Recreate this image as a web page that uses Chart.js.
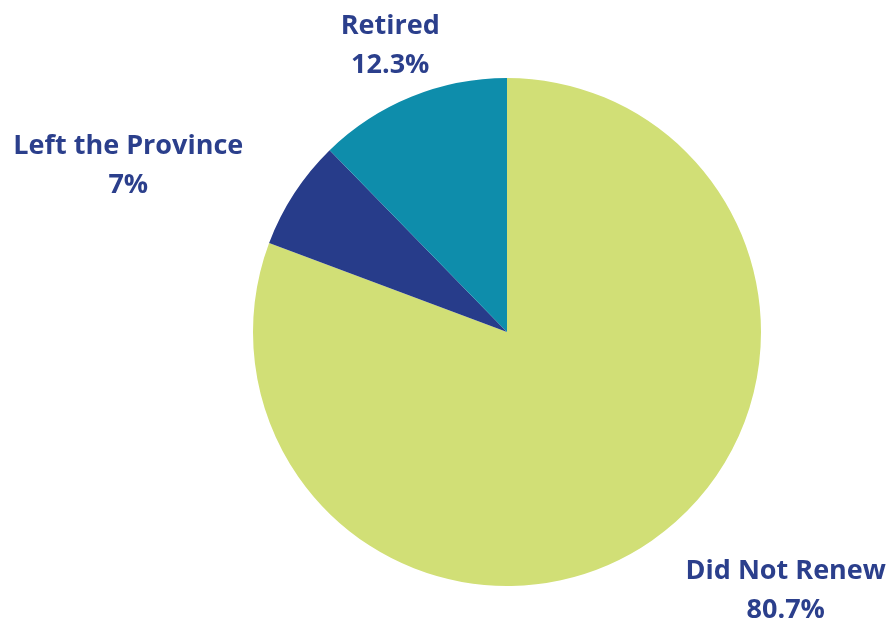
<!DOCTYPE html>
<html>
<head>
<meta charset="utf-8">
<script src="https://cdn.jsdelivr.net/npm/chart.js@4"></script>
<style>
  html, body { margin: 0; padding: 0; background: #fff; }
  #wrap { width: 893px; height: 622px; }
</style>
</head>
<body>
<div id="wrap"><canvas id="pieChart"></canvas></div>
<script>
const labels = ['Did Not Renew', 'Left the Province', 'Retired'];
const shares = [80.7, 7, 12.3];
const colors = ['#D1DF76', '#273C8A', '#0E8DAB'];

// nudge for each label, relative to the point on the rim at the slice's mid angle
const labelNudge = [[134, 50], [-166, -28], [-21, -51]];

const outsideLabels = {
    id: 'outsideLabels',
    afterDatasetsDraw(chart) {
        const ctx = chart.ctx;
        const meta = chart.getDatasetMeta(0);
        ctx.save();
        ctx.font = '700 27px "Open Sans"';
        ctx.fillStyle = '#2B3F8C';
        ctx.textAlign = 'center';
        ctx.textBaseline = 'middle';
        meta.data.forEach((arc, i) => {
            const mid = (arc.startAngle + arc.endAngle) / 2;
            const x = arc.x + Math.cos(mid) * arc.outerRadius + labelNudge[i][0];
            const y = arc.y + Math.sin(mid) * arc.outerRadius + labelNudge[i][1];
            ctx.fillText(labels[i], x, y - 19);
            ctx.fillText(shares[i] + '%', x, y + 20);
        });
        ctx.restore();
    }
};

new Chart(document.getElementById('pieChart'), {
    type: 'pie',
    data: {
        labels: labels,
        datasets: [{
            data: shares,
            backgroundColor: colors,
            borderWidth: 0
        }]
    },
    options: {
        responsive: true,
        maintainAspectRatio: false,
        animation: false,
        layout: { padding: { top: 78, bottom: 36, left: 253, right: 132 } },
        plugins: {
            legend: { display: false },
            tooltip: { enabled: false }
        }
    },
    plugins: [outsideLabels]
});
</script>
</body>
</html>
